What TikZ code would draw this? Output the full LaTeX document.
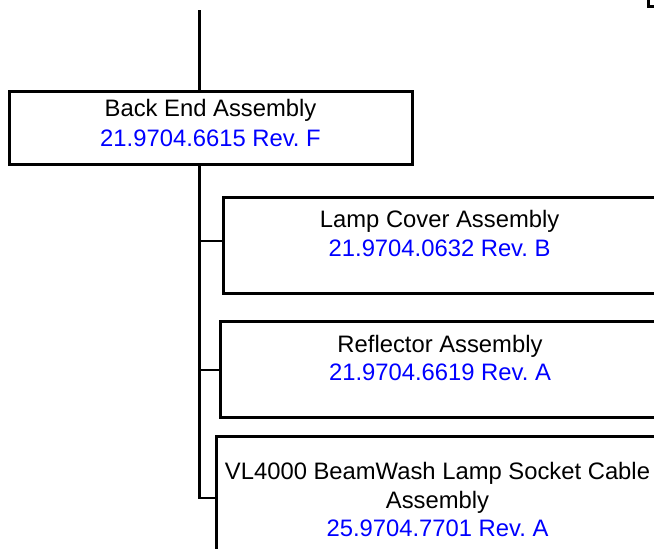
\documentclass[tikz,border=0pt]{standalone}
\usepackage{fontspec}
\setmainfont{Liberation Sans}
\frenchspacing
\definecolor{partblue}{RGB}{0,0,255}
\begin{document}
\begin{tikzpicture}[x=1pt,y=-1pt,
  box/.style={draw=black,line width=3pt,rectangle,inner sep=0pt,fill=none},
  conn/.style={draw=black,line width=2pt},
  spine/.style={draw=black,line width=3pt},
  ttl/.style={anchor=base,inner sep=0pt,text=black,font=\fontsize{23.8}{28.7}\selectfont},
  num/.style={anchor=base,inner sep=0pt,text=partblue,font=\fontsize{23.8}{28.7}\selectfont}]
\useasboundingbox (0,0) rectangle (654,549);
\clip (0,0) rectangle (654,549);
% boxes
\node[box,minimum width=200pt,minimum height=60pt] (topbox) at (748,-23.5) {};
\node[box,minimum width=403pt,minimum height=73.5pt] (backend) at (210.5,127.75) {};
\node[box,minimum width=432.7pt,minimum height=96pt] (lamp) at (439.65,245.3) {};
\node[box,minimum width=438.6pt,minimum height=95.7pt] (refl) at (440,369.15) {};
\node[box,minimum width=443pt,minimum height=130pt] (sock) at (437.5,501.3) {};
% texts
\node[ttl] (t1) at (210.5,116.7) {Back End Assembly};
\node[num] (n1) at (210.5,146.2) {21.9704.6615 Rev.\ F};
\node[ttl] (t2) at (439.6,227.3) {Lamp Cover Assembly};
\node[num] (n2) at (439.6,256) {21.9704.0632 Rev.\ B};
\node[ttl] (t3) at (440,352.3) {Reflector Assembly};
\node[num] (n3) at (440,380.5) {21.9704.6619 Rev.\ A};
\node[ttl] (t4a) at (437.5,479.3) {VL4000 BeamWash Lamp Socket Cable};
\node[ttl] (t4b) at (437.5,508.3) {Assembly};
\node[num] (n4) at (437.5,536.7) {25.9704.7701 Rev.\ A};
% spine and connectors
\coordinate (top) at (199.3,10);
\coordinate (s1) at (199.3,241);
\coordinate (s2) at (199.3,370);
\coordinate (s3) at (199.3,497.5);
\coordinate (send) at (199.3,499);
\draw[spine] (top) -- (top |- backend.north);
\draw[spine] (top |- backend.south) -- (send);
\draw[conn] (s1) -- (lamp.west |- s1);
\draw[conn] (s2) -- (refl.west |- s2);
\draw[conn] (s3) -- (sock.west |- s3);
\end{tikzpicture}
\end{document}
